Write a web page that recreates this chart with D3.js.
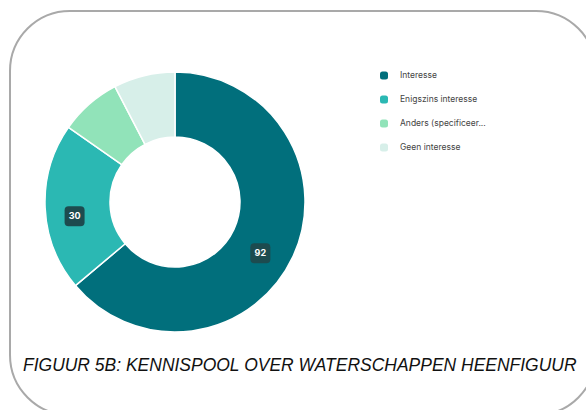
<!DOCTYPE html>
<html>
<head>
<meta charset="utf-8">
<script src="https://cdn.jsdelivr.net/npm/d3@7"></script>
<style>
  html, body { margin: 0; padding: 0; background: #ffffff; }
  svg { display: block; }
</style>
</head>
<body>
<svg id="chart" width="586" height="410"></svg>
<script>
// Survey answers: interest in joining a knowledge pool about water boards
const categories = ["Interesse", "Enigszins interesse", "Anders (specificeer...", "Geen interesse"];
const counts = [92, 30, 11, 11];
const colors = ["#016f7c", "#2bb8b3", "#91e3b9", "#d7efe9"];
const shownLabels = [true, true, false, false];
const caption = "FIGUUR 5B: KENNISPOOL OVER WATERSCHAPPEN HEENFIGUUR";

const svg = d3.select("#chart");

// Card outline
svg.append("rect")
  .attr("x", 10).attr("y", 11)
  .attr("width", 586).attr("height", 404)
  .attr("rx", 60).attr("ry", 60)
  .attr("fill", "#ffffff")
  .attr("stroke", "#a9a9a9")
  .attr("stroke-width", 2);

const cx = 175, cy = 202;
const outerR = 130, innerR = 65;

const data = categories.map((c, i) => ({ name: c, value: counts[i], color: colors[i], label: shownLabels[i] }));

const pie = d3.pie().value(d => d.value).sort(null);
const arc = d3.arc().innerRadius(innerR).outerRadius(outerR);
const labelArc = d3.arc().innerRadius((innerR + outerR) / 2).outerRadius((innerR + outerR) / 2);

const g = svg.append("g").attr("transform", `translate(${cx},${cy})`);

const arcs = pie(data);

g.selectAll("path.slice")
  .data(arcs)
  .join("path")
  .attr("class", "slice")
  .attr("d", arc)
  .attr("fill", d => d.data.color)
  .attr("stroke", "#ffffff")
  .attr("stroke-width", 1.5)
  .attr("stroke-linejoin", "round");

// Value badges
const badges = g.selectAll("g.badge")
  .data(arcs.filter(d => d.data.label))
  .join("g")
  .attr("class", "badge")
  .attr("transform", d => {
    const [x, y] = labelArc.centroid(d);
    return `translate(${x - 3},${y + 10})`;
  });

badges.append("rect")
  .attr("x", -10).attr("y", -10)
  .attr("width", 20).attr("height", 20)
  .attr("rx", 4)
  .attr("fill", "#1d4b4f");

badges.append("text")
  .attr("text-anchor", "middle")
  .attr("dy", "0.35em")
  .attr("fill", "#ffffff")
  .attr("font-family", "Inter, 'Noto Sans', sans-serif")
  .attr("font-weight", 700)
  .attr("font-size", 9)
  .text(d => d.data.value);

// Legend
const legend = svg.append("g").attr("transform", "translate(380,75.5)");
const items = legend.selectAll("g.item")
  .data(data)
  .join("g")
  .attr("class", "item")
  .attr("transform", (d, i) => `translate(0,${i * 24})`);

items.append("rect")
  .attr("x", 0).attr("y", -4)
  .attr("width", 8).attr("height", 8)
  .attr("rx", 2.5)
  .attr("fill", d => d.color);

items.append("text")
  .attr("x", 20)
  .attr("dy", "0.35em")
  .attr("fill", "#444444")
  .attr("font-family", "Inter, 'Noto Sans', sans-serif")
  .attr("font-size", 8.5)
  .text(d => d.name);

// Caption, condensed horizontally to fit inside the card
const cap = svg.append("text")
  .attr("font-family", "'Liberation Sans Narrow', 'Liberation Sans', Arial, sans-serif")
  .attr("font-style", "italic")
  .attr("font-size", 18)
  .attr("fill", "#111111")
  .text(caption);
const capWidth = cap.node().getComputedTextLength();
cap.attr("transform", `translate(23,371) scale(${554 / capWidth},1)`);
</script>
</body>
</html>
